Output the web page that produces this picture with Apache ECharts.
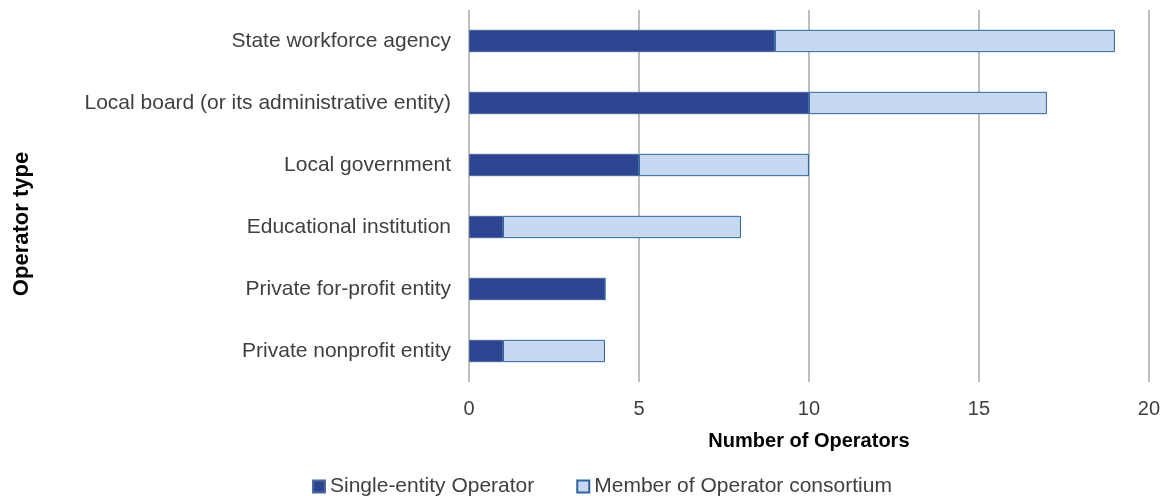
<!DOCTYPE html>
<html><head><meta charset="utf-8">
<script src="https://cdn.jsdelivr.net/npm/echarts@6/dist/echarts.min.js"></script>
<style>html,body{margin:0;padding:0;background:#fff}#c{width:1163px;height:496px}</style>
</head><body><div id="c"></div>
<script>
const categories = ["Private nonprofit entity","Private for-profit entity","Educational institution","Local government","Local board (or its administrative entity)","State workforce agency"];
const singleEntity = [1,4,1,5,10,9];
const consortium = [3,0,7,5,7,10];
const xTicks = [0,5,10,15,20];
const seriesNames = ["Single-entity Operator","Member of Operator consortium"];
const yAxisTitle = "Operator type";
const xAxisTitle = "Number of Operators";

const font = "Liberation Sans, Arial, sans-serif";
const chart = echarts.init(document.getElementById('c'));
chart.setOption({
  animation:false,
  textStyle:{fontFamily:font},
  grid:{left:469,right:10,top:10,bottom:114,containLabel:false},
  legend:{
    top:471,left:307,icon:'rect',itemWidth:12,itemHeight:12,itemGap:42,
    textStyle:{fontSize:21,color:'#404040',fontFamily:font},
    data:seriesNames
  },
  graphic:[{
    type:'text',x:22,y:224,rotation:Math.PI/2,
    style:{text:yAxisTitle,fontSize:22,fontWeight:'bold',fill:'#000',fontFamily:font,align:'center',verticalAlign:'middle'}
  }],
  xAxis:{
    type:'value',min:xTicks[0],max:xTicks[xTicks.length-1],interval:5,
    name:xAxisTitle,nameLocation:'middle',nameGap:49,
    nameTextStyle:{fontSize:20,fontWeight:'bold',color:'#000',fontFamily:font},
    axisLine:{show:false},axisTick:{show:false},
    axisLabel:{fontSize:20,color:'#404040',margin:17,fontFamily:font},
    splitLine:{show:true,lineStyle:{color:'#bfbfbf',width:2}}
  },
  yAxis:{
    type:'category',data:categories,
    axisLine:{show:false},axisTick:{show:false},
    axisLabel:{fontSize:21,color:'#404040',margin:18,fontFamily:font}
  },
  series:[
    {name:seriesNames[0],type:'bar',stack:'s',data:singleEntity,barWidth:'36%',
     itemStyle:{color:'#2e4490',borderColor:'#4a6a9c',borderWidth:1}},
    {name:seriesNames[1],type:'bar',stack:'s',data:consortium,barWidth:'36%',
     itemStyle:{color:'#c6d9f0',borderColor:'#2e64a0',borderWidth:1}}
  ]
});
</script></body></html>
